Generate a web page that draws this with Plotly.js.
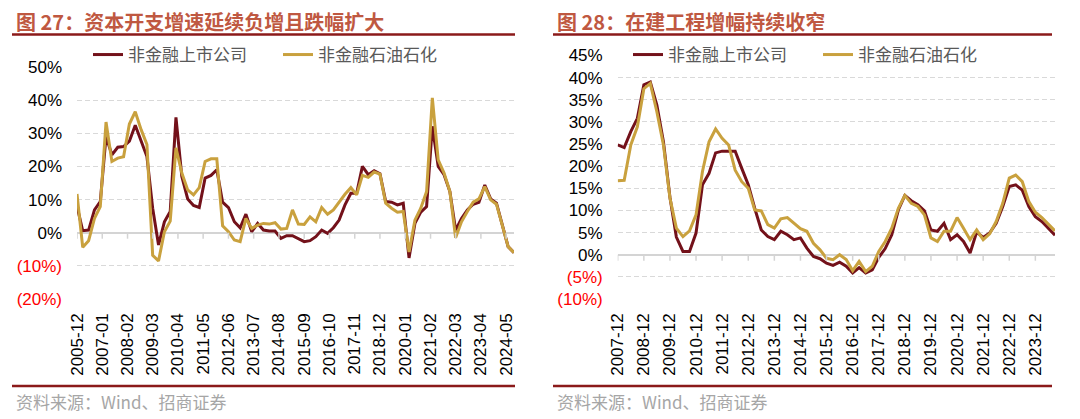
<!DOCTYPE html>
<html><head><meta charset="utf-8">
<script src="https://cdn.plot.ly/plotly-3.0.1.min.js"></script>
<style>html,body{margin:0;padding:0;background:#fff}</style>
</head><body><div id="chart" style="width:1080px;height:419px"></div>
<script>
const W = 1080, H = 419;

function quarterRange(start, end) {
  let [y, m] = start.split('-').map(Number);
  const [ey, em] = end.split('-').map(Number);
  const out = [];
  while (y < ey || (y === ey && m <= em)) {
    out.push(y + '-' + String(m).padStart(2, '0'));
    m += 3; if (m > 12) { m -= 12; y += 1; }
  }
  return out;
}

const seriesNames = ['非金融上市公司', '非金融石油石化'];
const titles = ['图 27：资本开支增速延续负增且跌幅扩大', '图 28：在建工程增幅持续收窄'];
const sourceText = '资料来源：Wind、招商证券';

// Chart 27: capex growth (%), quarterly 2005-12 .. 2024-09
const capexQuarters = quarterRange('2005-12', '2024-09');
const capexListed = [8, 0.6, 0.8, 6.9, 9.4, 29, 23.5, 25.8, 26, 27.6, 32.4, 27.6, 23, 7.4, -3.7, 3.3, 6.4, 34.8, 17, 10.2,
  8.2, 7.6, 16.5, 17.3, 19, 9.2, 7.6, 3.3, 1.5, 5.6, 0.3, 2.8, 0.8, 0.5, 0.5, -1.7, -0.9, -0.9, -1.9, -2.7,
  -2.4, -1.2, 0.8, -0.2, 1.5, 3.8, 8.4, 11.9, 11.9, 20, 17.5, 18.7, 17.8, 9.4, 9.2, 8.4, 8.9, -7.6, 2.8, 6.2,
  7.9, 32.1, 20, 17.5, 12.4, 0.8, 4.3, 6.9, 8.6, 9.2, 14.4, 10.2, 8.9, 2.3, -4.2, -6];
const capexPetro = [11.7, -4.4, -2.4, 4.3, 7.9, 33.4, 21.5, 22.5, 22.9, 32.8, 36.5, 31.1, 26.6, -6.8, -8.5, 0.3, 3.5, 25.6, 18, 12.9,
  11.4, 13.6, 21.5, 22.3, 22.3, 2.1, 0.3, -2.2, -2.7, 4.3, 1.3, 2.3, 2.8, 2.6, 3, 1.1, 1.3, 6.9, 2.6, 2.5,
  4.8, 3.3, 7.6, 5.6, 6.9, 9.4, 11.6, 13.6, 11.4, 17.3, 16.7, 18.3, 17.7, 8.9, 7.4, 6.2, 6.4, -5.8, 3.8, 7.4,
  12.4, 40.7, 22, 18, 12.4, -1.5, 3.3, 6.4, 9.2, 10.2, 13.9, 9.9, 8.6, 2.3, -4.2, -6];
const capexTicks = ['2005-12', '2007-01', '2008-02', '2009-03', '2010-04', '2011-05', '2012-06', '2013-07', '2014-08',
  '2015-09', '2016-10', '2017-11', '2018-12', '2020-01', '2021-02', '2022-03', '2023-04', '2024-05'];
const capexYTicks = [-20, -10, 0, 10, 20, 30, 40, 50];

// Chart 28: construction-in-progress growth (%), quarterly 2007-12 .. 2024-09
const cipQuarters = quarterRange('2007-12', '2024-09');
const cipListed = [24.8, 24.2, 27.8, 30.8, 38.4, 39, 33.8, 25.5, 13, 4, 0.75, 0.75, 4.9, 15.8, 18.4, 23, 23.4, 23.4, 23.4, 19.5,
  15.8, 10.5, 5.6, 4.1, 3.4, 5.3, 4.5, 3.4, 3.8, 1.5, -0.4, -0.9, -1.9, -2.4, -1.7, -2.6, -4.1, -2.9, -4.1, -3.4,
  -0.6, 1.4, 4.5, 10.1, 13.4, 12.2, 11.3, 9.9, 5.6, 5.3, 7.1, 3.4, 4.5, 3, 0.4, 5.1, 3.9, 4.9, 7.1, 10.9,
  15.4, 15.8, 14.6, 10.9, 8.6, 7.5, 6, 4.4];
const cipPetro = [16.7, 16.8, 24.8, 28.9, 37.5, 38.7, 32.3, 24.8, 12.8, 6, 4.1, 5.4, 9, 18.8, 25.5, 28.4, 26.3, 24.8, 19.1, 16.5,
  15, 10.1, 9.9, 6.8, 6, 8.1, 8.4, 7.1, 5.9, 5.3, 2.6, 1.1, -0.8, -1.1, 0, -1.1, -3.6, -1.5, -3.8, -2.6,
  0.75, 3, 6, 10.5, 13.4, 11.6, 10.9, 9, 3.8, 3, 5.3, 5.3, 8.4, 6, 3.4, 5.6, 3.4, 4.7, 7.5, 11.6,
  17.3, 18, 16.5, 12, 9.6, 8.4, 6.8, 5.4];
const cipTicks = ['2007-12', '2008-12', '2009-12', '2010-12', '2011-12', '2012-12', '2013-12', '2014-12', '2015-12',
  '2016-12', '2017-12', '2018-12', '2019-12', '2020-12', '2021-12', '2022-12', '2023-12'];
const cipYTicks = [-10, -5, 0, 5, 10, 15, 20, 25, 30, 35, 40, 45];

const colors = ['#73111A', '#C9A13E'];
const numFont = 'Liberation Sans, Arial, sans-serif';
const cjkFont = 'Noto Sans CJK SC, sans-serif';

function pctLabel(v) {
  return v < 0 ? '<span style="color:#FF0000">(' + Math.abs(v) + '%)</span>' : v + '%';
}
const px = v => v / W, py = v => 1 - v / H;

const traces = [
  {x: capexQuarters, y: capexListed, name: seriesNames[0], xaxis: 'x', yaxis: 'y', legend: 'legend'},
  {x: capexQuarters, y: capexPetro, name: seriesNames[1], xaxis: 'x', yaxis: 'y', legend: 'legend'},
  {x: cipQuarters, y: cipListed, name: seriesNames[0], xaxis: 'x2', yaxis: 'y2', legend: 'legend2'},
  {x: cipQuarters, y: cipPetro, name: seriesNames[1], xaxis: 'x2', yaxis: 'y2', legend: 'legend2'}
].map((t, i) => Object.assign(t, {type: 'scatter', mode: 'lines', line: {color: colors[i % 2], width: 3}, hoverinfo: 'skip'}));

function xAxis(dom, ticks, range, anchor) {
  return {domain: dom, type: 'date', range: range, tickvals: ticks, ticktext: ticks, tickangle: -90,
    tickfont: {family: numFont, size: 17, color: '#000'}, showgrid: false, zeroline: false, showline: false,
    ticks: '', ticklabelstandoff: 10, anchor: anchor, fixedrange: true};
}
function yAxis(dom, ticks, anchor) {
  return {domain: dom, range: [ticks[0], ticks[ticks.length - 1]], tickvals: ticks, ticktext: ticks.map(pctLabel),
    tickfont: {family: numFont, size: 17, color: '#000'}, showgrid: true, gridcolor: '#D9D9D9', griddash: '5px,3px',
    gridwidth: 1, zeroline: true, zerolinecolor: '#D4D4D4', zerolinewidth: 2, showline: false, ticks: '',
    ticklabelstandoff: 14, anchor: anchor, fixedrange: true};
}

const shapes = [];
[[12, 515], [553, 1052]].forEach(([a, b]) => {
  shapes.push({type: 'line', xref: 'paper', yref: 'paper', x0: px(a), x1: px(b), y0: py(34.5), y1: py(34.5), line: {color: '#8B1A1A', width: 2.5}});
  shapes.push({type: 'line', xref: 'paper', yref: 'paper', x0: px(a), x1: px(b), y0: py(386), y1: py(386), line: {color: '#8B1A1A', width: 2.5}});
});
[[capexTicks, 'x', 'y'], [cipTicks, 'x2', 'y2']].forEach(([tv, xr, yr]) => {
  tv.forEach(t => shapes.push({type: 'line', xref: xr, yref: yr, x0: t, x1: t, ysizemode: 'pixel', yanchor: 0, y0: 0, y1: -6,
    line: {color: '#D4D4D4', width: 1.5}}));
});

const annotations = [];
[[14, titles[0]], [555, titles[1]]].forEach(([x, t]) => {
  annotations.push({xref: 'paper', yref: 'paper', x: px(x), y: py(21), xanchor: 'left', yanchor: 'middle', showarrow: false,
    text: '<b>' + t + '</b>', font: {family: cjkFont, size: 20, color: '#BF5841'}});
});
[14, 555].forEach(x => {
  annotations.push({xref: 'paper', yref: 'paper', x: px(x), y: py(401), xanchor: 'left', yanchor: 'middle', showarrow: false,
    text: sourceText, font: {family: cjkFont, size: 17, color: '#A6A6A6'}});
});

function legendCfg(x) {
  return {orientation: 'h', x: px(x), y: py(55), xanchor: 'left', yanchor: 'middle', bgcolor: 'rgba(0,0,0,0)',
    font: {family: cjkFont, size: 17, color: '#595959'}, itemclick: false, itemdoubleclick: false, entrywidth: 145};
}

const layout = {
  width: W, height: H, margin: {l: 0, r: 0, t: 0, b: 0}, paper_bgcolor: '#fff', plot_bgcolor: '#fff',
  showlegend: true,
  xaxis: xAxis([px(77), px(514)], capexTicks, [capexQuarters[0], capexQuarters[capexQuarters.length - 1]], 'y'),
  yaxis: yAxis([py(299), py(67)], capexYTicks, 'x'),
  xaxis2: xAxis([px(617.7), px(1055)], cipTicks, [cipQuarters[0], cipQuarters[cipQuarters.length - 1]], 'y2'),
  yaxis2: yAxis([py(299), py(55.5)], cipYTicks, 'x2'),
  legend: legendCfg(88),
  legend2: legendCfg(628),
  shapes: shapes, annotations: annotations
};

Plotly.newPlot('chart', traces, layout, {displayModeBar: false, staticPlot: true});
</script></body></html>
